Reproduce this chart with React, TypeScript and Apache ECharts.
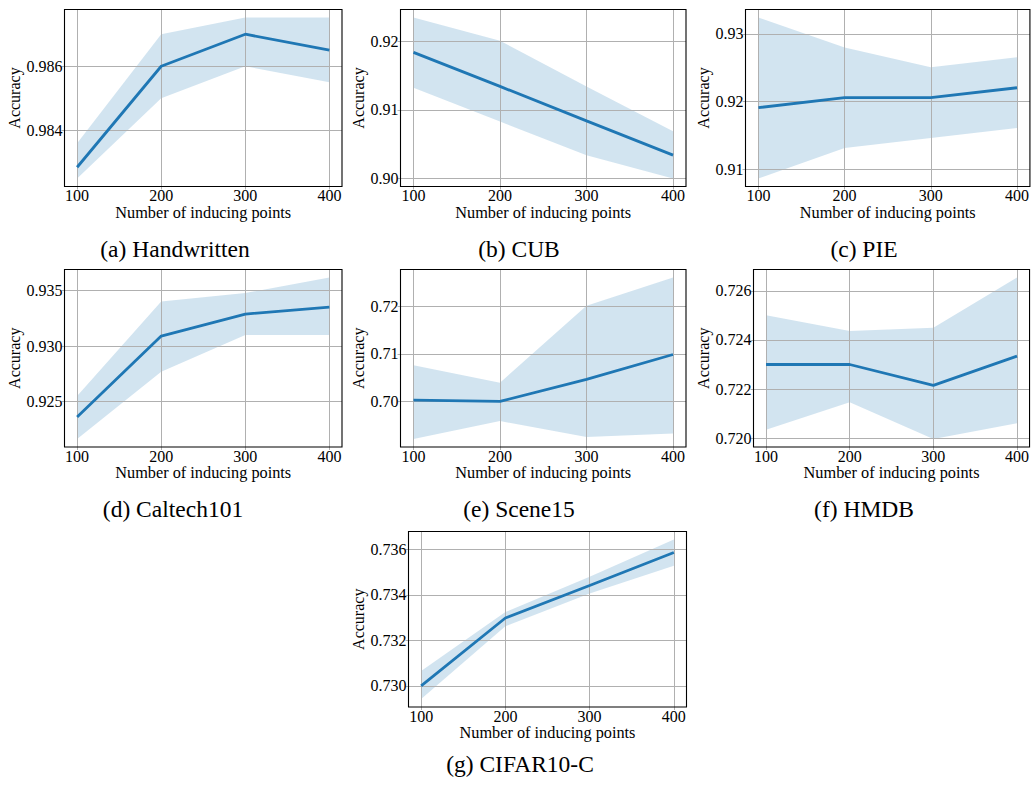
import React, { useEffect, useRef } from "react";
import * as echarts from "echarts";

// ---------- data ----------
const inducingPoints = [100, 200, 300, 400];
const xTicks = [100, 200, 300, 400];

const handwrittenMean = [0.98285, 0.986, 0.987, 0.9865];
const handwrittenLower = [0.9825, 0.985, 0.986, 0.9855];
const handwrittenUpper = [0.9836, 0.987, 0.98752, 0.98752];
const handwrittenTicks = [0.984, 0.986];

const cubMean = [0.9184, 0.91343, 0.9084, 0.9034];
const cubLower = [0.91324, 0.9083, 0.9034, 0.9];
const cubUpper = [0.92348, 0.9201, 0.91343, 0.9069];
const cubTicks = [0.9, 0.91, 0.92];

const pieMean = [0.91912, 0.92059, 0.92059, 0.92205];
const pieLower = [0.90868, 0.91318, 0.91465, 0.91611];
const pieUpper = [0.9324, 0.928, 0.92507, 0.92654];
const pieTicks = [0.91, 0.92, 0.93];

const caltechMean = [0.92363, 0.9309, 0.93287, 0.9335];
const caltechLower = [0.92166, 0.9277, 0.93099, 0.93099];
const caltechUpper = [0.92551, 0.93401, 0.93476, 0.93615];
const caltechTicks = [0.925, 0.93, 0.935];

const scene15Mean = [0.70028, 0.7, 0.70465, 0.70987];
const scene15Lower = [0.69212, 0.69588, 0.69254, 0.69324];
const scene15Upper = [0.7076, 0.70395, 0.7201, 0.72604];
const scene15Ticks = [0.7, 0.71, 0.72];

const hmdbMean = [0.723, 0.723, 0.72215, 0.72334];
const hmdbLower = [0.72034, 0.72146, 0.71997, 0.72061];
const hmdbUpper = [0.72501, 0.72436, 0.7245, 0.72654];
const hmdbTicks = [0.72, 0.722, 0.724, 0.726];

const cifarMean = [0.73, 0.73298, 0.73441, 0.73586];
const cifarLower = [0.72942, 0.73262, 0.73406, 0.73528];
const cifarUpper = [0.73065, 0.73324, 0.73479, 0.73643];
const cifarTicks = [0.73, 0.732, 0.734, 0.736];

const captions = [
  "(a) Handwritten",
  "(b) CUB",
  "(c) PIE",
  "(d) Caltech101",
  "(e) Scene15",
  "(f) HMDB",
  "(g) CIFAR10-C",
];
const tickDecimals = [3, 2, 2, 3, 2, 3, 3];

const xLabel = "Number of inducing points";
const yLabel = "Accuracy";

// ---------- layout (positions / styles) ----------
const gridRects = [
  { left: 64.5, top: 9.5, width: 277.5, height: 177 },
  { left: 400.5, top: 9.5, width: 285.5, height: 177 },
  { left: 745.5, top: 9.5, width: 285, height: 177 },
  { left: 64.5, top: 269.5, width: 277.5, height: 177.5 },
  { left: 400.5, top: 269.5, width: 285.5, height: 177.5 },
  { left: 753.5, top: 269.5, width: 277.5, height: 177.5 },
  { left: 408.5, top: 531.5, width: 278, height: 175.5 },
];
const yNameGaps = [42, 34, 34, 42, 34, 42, 40];
const captionPos = [
  [175, 249],
  [519, 249],
  [864, 249],
  [173, 508.5],
  [519, 508.5],
  [864, 508.5],
  [520, 764],
];

const FONT = '"Liberation Serif", "Times New Roman", serif';
const LINE_COLOR = "#1f77b4";
const BAND_COLOR = "rgba(31,119,180,0.2)";
const GRID_COLOR = "#b0b0b0";

const panels = [
  { mean: handwrittenMean, lower: handwrittenLower, upper: handwrittenUpper, ticks: handwrittenTicks },
  { mean: cubMean, lower: cubLower, upper: cubUpper, ticks: cubTicks },
  { mean: pieMean, lower: pieLower, upper: pieUpper, ticks: pieTicks },
  { mean: caltechMean, lower: caltechLower, upper: caltechUpper, ticks: caltechTicks },
  { mean: scene15Mean, lower: scene15Lower, upper: scene15Upper, ticks: scene15Ticks },
  { mean: hmdbMean, lower: hmdbLower, upper: hmdbUpper, ticks: hmdbTicks },
  { mean: cifarMean, lower: cifarLower, upper: cifarUpper, ticks: cifarTicks },
];

function buildOption() {
  const grid: any[] = [];
  const xAxis: any[] = [];
  const yAxis: any[] = [];
  const series: any[] = [];
  const graphic: any[] = [];

  panels.forEach((p, i) => {
    const lo = Math.min(...p.lower, ...p.mean);
    const hi = Math.max(...p.upper, ...p.mean);
    const pad = (hi - lo) * 0.05;
    const span = inducingPoints[inducingPoints.length - 1] - inducingPoints[0];
    const xMin = inducingPoints[0] - span * 0.05;
    const xMax = inducingPoints[inducingPoints.length - 1] + span * 0.05;

    grid.push({
      ...gridRects[i],
      show: true,
      borderColor: "#000",
      borderWidth: 1.1,
      backgroundColor: "transparent",
      containLabel: false,
      z: 4,
    });

    xAxis.push({
      type: "value",
      gridIndex: i,
      min: xMin,
      max: xMax,
      z: 2,
      name: xLabel,
      nameLocation: "middle",
      nameGap: 17,
      nameTextStyle: { fontFamily: FONT, fontSize: 16.3, color: "#000" },
      axisLine: { show: false },
      axisTick: { show: true, length: 3, lineStyle: { color: GRID_COLOR }, customValues: xTicks },
      axisLabel: {
        customValues: xTicks,
        fontFamily: FONT,
        fontSize: 16,
        color: "#000",
        margin: 1,
        formatter: (v: number) => String(Math.round(v)),
      },
      splitLine: { show: true, lineStyle: { color: GRID_COLOR, width: 1 } },
    });

    yAxis.push({
      type: "value",
      gridIndex: i,
      min: lo - pad,
      max: hi + pad,
      z: 2,
      name: yLabel,
      nameLocation: "middle",
      nameGap: yNameGaps[i],
      nameTextStyle: { fontFamily: FONT, fontSize: 16, color: "#000" },
      axisLine: { show: false },
      axisTick: { show: true, length: 3, lineStyle: { color: GRID_COLOR }, customValues: p.ticks },
      axisLabel: {
        customValues: p.ticks,
        fontFamily: FONT,
        fontSize: 16,
        color: "#000",
        margin: 2,
        formatter: (v: number) => v.toFixed(tickDecimals[i]),
      },
      splitLine: { show: true, lineStyle: { color: GRID_COLOR, width: 1 } },
    });

    const bandData = inducingPoints.map((x, k) => [x, p.lower[k], p.upper[k]]);
    series.push({
      type: "custom",
      xAxisIndex: i,
      yAxisIndex: i,
      data: bandData,
      encode: { x: 0, y: [1, 2] },
      silent: true,
      z: 1,
      renderItem: (params: any, api: any) => {
        if (params.dataIndex !== 0) return null;
        const pts: number[][] = [];
        for (let k = 0; k < bandData.length; k++) {
          pts.push(api.coord([bandData[k][0], bandData[k][2]]));
        }
        for (let k = bandData.length - 1; k >= 0; k--) {
          pts.push(api.coord([bandData[k][0], bandData[k][1]]));
        }
        return {
          type: "polygon",
          shape: { points: pts },
          style: { fill: BAND_COLOR, stroke: "none" },
        };
      },
    });
    series.push({
      type: "line",
      xAxisIndex: i,
      yAxisIndex: i,
      data: inducingPoints.map((x, k) => [x, p.mean[k]]),
      symbol: "none",
      lineStyle: { width: 2.8, color: LINE_COLOR },
      z: 3,
    });

    graphic.push({
      type: "text",
      x: captionPos[i][0],
      y: captionPos[i][1],
      style: {
        text: captions[i],
        fontFamily: FONT,
        fontSize: 23.5,
        fill: "#000",
        align: "center",
        verticalAlign: "middle",
      },
    });
  });

  return {
    animation: false,
    backgroundColor: "#fff",
    grid,
    xAxis,
    yAxis,
    series,
    graphic,
  };
}

export default function App() {
  const ref = useRef<HTMLDivElement>(null);
  useEffect(() => {
    if (!ref.current) return;
    const chart = echarts.init(ref.current, undefined, { renderer: "svg" });
    chart.setOption(buildOption() as any);
    return () => chart.dispose();
  }, []);
  return (
    <div
      ref={ref}
      style={{ position: "absolute", left: 0, top: 0, width: 1032, height: 787 }}
    />
  );
}
